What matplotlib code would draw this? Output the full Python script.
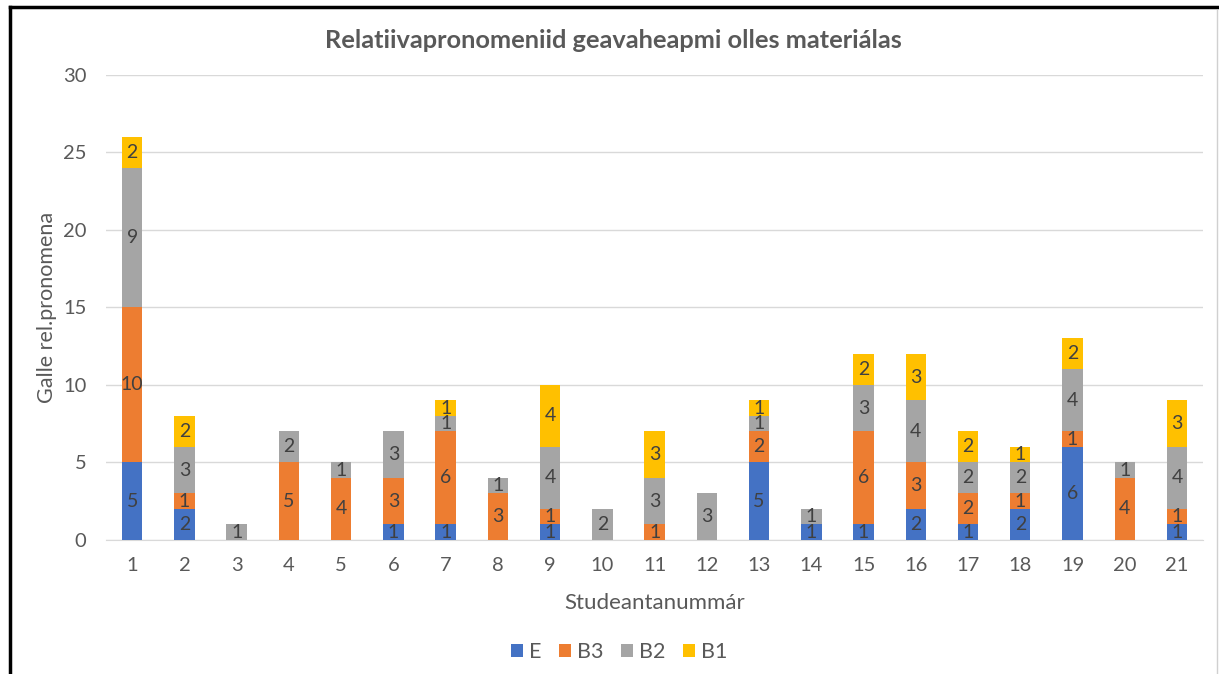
import numpy as np
import matplotlib
matplotlib.use("Agg")
import matplotlib.pyplot as plt
from matplotlib.lines import Line2D

plt.rcParams["font.family"] = ["Lato", "DejaVu Sans"]

# ── Data ─────────────────────────────────────────────────────────────────────
STUDENTS = [str(i) for i in range(1, 22)]
E  = [5, 2, 0, 0, 0, 1, 1, 0, 1, 0, 0, 0, 5, 1, 1, 2, 1, 2, 6, 0, 1]
B3 = [10, 1, 0, 5, 4, 3, 6, 3, 1, 0, 1, 0, 2, 0, 6, 3, 2, 1, 1, 4, 1]
B2 = [9, 3, 1, 2, 1, 3, 1, 1, 4, 2, 3, 3, 1, 1, 3, 4, 2, 2, 4, 1, 4]
B1 = [2, 2, 0, 0, 0, 0, 1, 0, 4, 0, 3, 0, 1, 0, 2, 3, 2, 1, 2, 0, 3]
SERIES = ["E", "B3", "B2", "B1"]
COLORS = ["#4472C4", "#ED7D31", "#A5A5A5", "#FFC000"]

TEXT = "#595959"
GRID = "#D9D9D9"

fig = plt.figure(figsize=(12.19, 6.74), dpi=100)
ax = fig.add_axes([0.087, 0.199, 0.900, 0.690])

x = np.arange(1, len(STUDENTS) + 1)
bottom = np.zeros(len(x))
for name, vals, col in zip(SERIES, [E, B3, B2, B1], COLORS):
    vals = np.array(vals, dtype=float)
    bars = ax.bar(x, vals, width=0.39, bottom=bottom, color=col, label=name, zorder=3)
    for b, v, y0 in zip(bars, vals, bottom):
        if v > 0:
            ax.text(b.get_x() + b.get_width() / 2, y0 + v / 2, f"{int(v)}",
                    ha="center", va="center", fontsize=14, color="#404040", zorder=4)
    bottom += vals

ax.set_xlim(0.5, 21.5)
ax.set_ylim(0, 30)
ax.set_yticks(range(0, 31, 5))
ax.set_xticks(x)
ax.set_xticklabels(STUDENTS)
ax.yaxis.grid(True, color=GRID, linewidth=1, zorder=0)
ax.tick_params(axis="both", length=0, labelsize=14.5, labelcolor=TEXT)
ax.tick_params(axis="x", pad=12)
ax.tick_params(axis="y", pad=14)
for s in ["top", "right", "left"]:
    ax.spines[s].set_visible(False)
ax.spines["bottom"].set_color(GRID)

ax.text(0.5, -0.136, "Studeantanummár", transform=ax.transAxes,
        ha="center", va="center", fontsize=16, color=TEXT)
ax.text(-0.054, 0.5, "Galle rel.pronomena", transform=ax.transAxes, rotation=90,
        ha="center", va="center", fontsize=15.5, color=TEXT)
fig.text(0.503, 0.940, "Relatiivapronomeniid geavaheapmi olles materiálas",
         ha="center", va="center", fontsize=18.3, fontweight="bold", color=TEXT)

leg = fig.legend(loc="center", bbox_to_anchor=(0.508, 0.033), ncol=4, frameon=False,
                 fontsize=15.5, handlelength=0.55, handleheight=0.55, handletextpad=0.3,
                 columnspacing=0.8)
for t in leg.get_texts():
    t.set_color(TEXT)

# outer frame
fig.add_artist(Line2D([0.0085, 0.0085], [0, 0.99], transform=fig.transFigure, color="black", lw=2.5))
fig.add_artist(Line2D([0.0085, 1.0], [0.99, 0.99], transform=fig.transFigure, color="black", lw=2.5))
fig.add_artist(Line2D([0.998, 0.998], [0, 0.985], transform=fig.transFigure, color="#D0D0D0", lw=1))

fig.savefig("out.png", dpi=100, facecolor="white")
